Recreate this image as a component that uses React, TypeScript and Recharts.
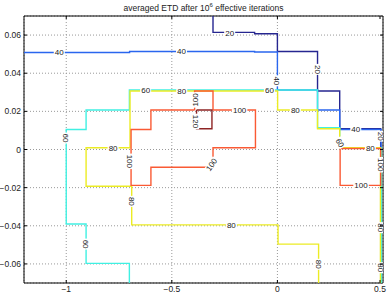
import React from "react";
import {
  ComposedChart,
  Line,
  Scatter,
  XAxis,
  YAxis,
  CartesianGrid,
  ReferenceArea,
} from "recharts";

// axis ticks
const X_TICKS = [-1, -0.5, 0, 0.5];
const Y_TICKS = [-0.06, -0.04, -0.02, 0, 0.02, 0.04, 0.06];

// contour paths, [x, y]
const level20: [number, number][] = [
  [-0.305, 0.07], [-0.305, 0.0614], [-0.108, 0.0614], [-0.108, 0.0607], [0.0, 0.0607],
  [0.0, 0.0514], [0.19, 0.0514], [0.19, 0.0307], [0.295, 0.0307], [0.295, 0.0109],
  [0.489, 0.0109], [0.489, -0.07],
];
const level40: [number, number][] = [
  [-1.2, 0.0509], [-0.7, 0.0509], [-0.7, 0.0514], [-0.108, 0.0514], [-0.108, 0.0511],
  [0.0, 0.0511], [0.0, 0.0312], [0.19, 0.0312], [0.19, 0.0207], [0.295, 0.0207],
  [0.295, 0.0105], [0.491, 0.0105], [0.491, -0.07],
];
const level60: [number, number][] = [
  [-0.701, -0.07], [-0.701, -0.0597], [-0.906, -0.0597], [-0.906, -0.0391], [-1.0, -0.0391],
  [-1.0, 0.0105], [-0.906, 0.0105], [-0.906, 0.0207], [-0.701, 0.0207], [-0.701, 0.0312],
  [0.19, 0.0312], [0.19, 0.0114], [0.295, 0.0114], [0.295, 0.0009], [0.493, 0.0009],
  [0.493, -0.07],
];
const level80: [number, number][] = [
  [0.195, -0.07], [0.195, -0.0496], [0.003, -0.0496], [0.003, -0.0395], [-0.69, -0.0395],
  [-0.69, -0.0193], [-0.906, -0.0193], [-0.906, 0.0009], [-0.698, 0.0009], [-0.698, 0.0307],
  [0.001, 0.0307], [0.001, 0.0207], [0.19, 0.0207], [0.19, 0.0109], [0.295, 0.0109],
  [0.295, 0.0009], [0.488, 0.0009], [0.488, -0.07],
];
const level100: [number, number][] = [
  [-0.392, 0.0207], [-0.392, 0.0307], [-0.305, 0.0307], [-0.305, 0.0207], [-0.104, 0.0207],
  [-0.104, 0.0009], [-0.305, 0.0009], [-0.305, -0.0093], [-0.599, -0.0093], [-0.599, -0.0188],
  [-0.693, -0.0188], [-0.693, 0.0105], [-0.599, 0.0105], [-0.599, 0.0207], [-0.392, 0.0207],
];
const level100b: [number, number][] = [
  [0.297, 0.0005], [0.297, -0.0188], [0.489, -0.0188], [0.489, 0.0005], [0.297, 0.0005],
];
const level120: [number, number][] = [
  [-0.383, 0.0207], [-0.31, 0.0207], [-0.31, 0.0109], [-0.383, 0.0109], [-0.383, 0.0207],
];

// inline contour labels
const labels = [
  { x: -0.226, y: 0.0613, text: "20", angle: 0 },
  { x: 0.19, y: 0.042, text: "20", angle: 90 },
  { x: 0.489, y: 0.007, text: "20", angle: 90 },
  { x: -1.033, y: 0.0509, text: "40", angle: 0 },
  { x: -0.454, y: 0.0514, text: "40", angle: 0 },
  { x: 0.0, y: 0.036, text: "40", angle: 90 },
  { x: 0.371, y: 0.0105, text: "40", angle: 0 },
  { x: -0.624, y: 0.0312, text: "60", angle: 0 },
  { x: -0.038, y: 0.0312, text: "60", angle: 0 },
  { x: -1.0, y: 0.006, text: "60", angle: 90 },
  { x: -0.906, y: -0.0496, text: "60", angle: 90 },
  { x: 0.297, y: 0.0035, text: "60", angle: 60 },
  { x: -0.778, y: 0.0009, text: "80", angle: 0 },
  { x: -0.453, y: 0.0307, text: "80", angle: 0 },
  { x: 0.085, y: 0.0207, text: "80", angle: 0 },
  { x: -0.69, y: -0.0272, text: "80", angle: 90 },
  { x: -0.218, y: -0.0395, text: "80", angle: 0 },
  { x: 0.195, y: -0.0602, text: "80", angle: 90 },
  { x: 0.44, y: 0.0009, text: "80", angle: 0 },
  { x: 0.49, y: -0.041, text: "80", angle: 90 },
  { x: 0.49, y: -0.062, text: "80", angle: 90 },
  { x: -0.698, y: -0.0062, text: "100", angle: 90 },
  { x: -0.179, y: 0.0207, text: "100", angle: 0 },
  { x: -0.392, y: 0.026, text: "100", angle: -90 },
  { x: -0.313, y: -0.0079, text: "100", angle: -55 },
  { x: 0.396, y: -0.0188, text: "100", angle: 0 },
  { x: 0.49, y: -0.008, text: "100", angle: 90 },
  { x: -0.387, y: 0.0147, text: "120", angle: 90 },
];

const FONT = "'Liberation Sans', Arial, Helvetica, sans-serif";
const PLOT_TOP = 16;
const PLOT_BOTTOM = 283;
const PLOT_LEFT = 24;
const PLOT_RIGHT = 383;

const toPts = (a: [number, number][]) => a.map(([x, y]) => ({ x, y }));
const fmt = (v: number) => (v < 0 ? "\u2212" + String(Math.abs(v)) : String(v));

const series = [
  { key: "c20", pts: level20, color: "#262690" },
  { key: "c40", pts: level40, color: "#2a66ee" },
  { key: "c60", pts: level60, color: "#40f0e2" },
  { key: "c80", pts: level80, color: "#ecec24" },
  { key: "c100", pts: level100, color: "#fa5a34" },
  { key: "c100b", pts: level100b, color: "#fa5a34" },
  { key: "c120", pts: level120, color: "#8e2424" },
];

function XTick(props: any) {
  const { x, y, payload } = props;
  return (
    <g>
      <line x1={x} x2={x} y1={PLOT_BOTTOM} y2={PLOT_BOTTOM - 3} stroke="#000" />
      <line x1={x} x2={x} y1={PLOT_TOP} y2={PLOT_TOP + 3} stroke="#000" />
      <text x={x} y={y} dy={7} textAnchor="middle" fontSize={8.5} fontFamily={FONT} fill="#222">
        {fmt(payload.value)}
      </text>
    </g>
  );
}

function YTick(props: any) {
  const { y, payload } = props;
  return (
    <g>
      <line x1={PLOT_LEFT} x2={PLOT_LEFT + 3} y1={y} y2={y} stroke="#000" />
      <line x1={PLOT_RIGHT} x2={PLOT_RIGHT - 3} y1={y} y2={y} stroke="#000" />
      <text x={PLOT_LEFT - 3} y={y} dy={3} textAnchor="end" fontSize={8.5} fontFamily={FONT} fill="#222">
        {fmt(payload.value)}
      </text>
    </g>
  );
}

function LabelMark(props: any) {
  const { cx, cy, payload } = props;
  if (cx == null || cy == null) return null;
  const w = payload.text.length * 4.5 + 2;
  return (
    <g transform={`translate(${cx},${cy}) rotate(${payload.angle})`}>
      <rect x={-w / 2} y={-3.5} width={w} height={7} fill="#fff" />
      <text textAnchor="middle" dy={3} fontSize={8} fontFamily={FONT} fill="#1a1a1a">
        {payload.text}
      </text>
    </g>
  );
}

export default function App() {
  return (
    <div style={{ position: "absolute", left: 0, top: 0, width: 390, height: 293, background: "#fff" }}>
      <div
        style={{
          position: "absolute",
          left: PLOT_LEFT,
          width: PLOT_RIGHT - PLOT_LEFT,
          top: 3,
          textAlign: "center",
          fontFamily: FONT,
          fontSize: 8.5,
          lineHeight: "10px",
          color: "#222",
          zIndex: 2,
        }}
      >
        averaged ETD after 10<sup style={{ fontSize: 6, lineHeight: 0 }}>6</sup> effective iterations
      </div>
      <ComposedChart width={390} height={293} margin={{ top: 16, right: 7, bottom: 0, left: 0 }}>
        <CartesianGrid stroke="#999" strokeDasharray="1 2" />
        <XAxis
          dataKey="x"
          type="number"
          domain={[-1.2, 0.5]}
          ticks={X_TICKS}
          allowDataOverflow
          height={10}
          tickLine={false}
          axisLine={false}
          tickSize={0}
          tickMargin={2}
          tick={<XTick />}
        />
        <YAxis
          dataKey="y"
          type="number"
          domain={[-0.07, 0.07]}
          ticks={Y_TICKS}
          allowDataOverflow
          width={24}
          tickLine={false}
          axisLine={false}
          tick={<YTick />}
        />
        {series.map((s) => (
          <Line
            key={s.key}
            data={toPts(s.pts)}
            dataKey="y"
            type="linear"
            stroke={s.color}
            strokeWidth={1.4}
            dot={false}
            activeDot={false}
            isAnimationActive={false}
          />
        ))}
        <Scatter data={labels} dataKey="y" shape={<LabelMark />} isAnimationActive={false} />
        <ReferenceArea x1={-1.2} x2={0.5} y1={-0.07} y2={0.07} fill="none" stroke="#000" strokeWidth={1} ifOverflow="visible" />
      </ComposedChart>
    </div>
  );
}
